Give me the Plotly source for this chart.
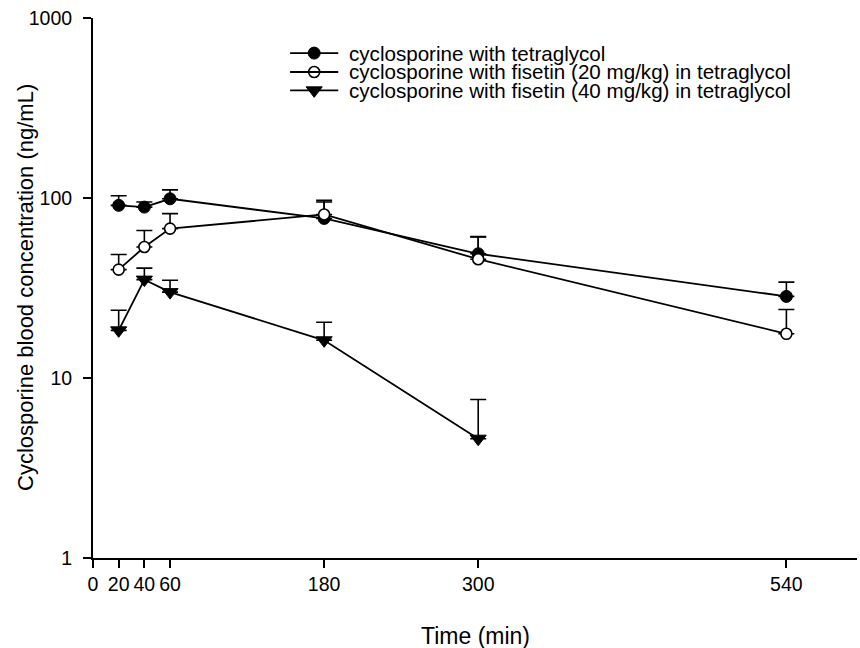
import plotly.graph_objects as go

# Sampling times (min)
time_min = [20, 40, 60, 180, 300, 540]
time_min_40 = [20, 40, 60, 180, 300]

# Mean blood concentrations (ng/mL) and upper SD
tetraglycol = [91, 89, 99, 77, 49, 28.4]
tetraglycol_sd = [12, 6, 12, 18, 12, 5.7]
fisetin20 = [40, 53.4, 67.6, 81, 45.7, 17.6]
fisetin20_sd = [8.5, 12.6, 14.3, 16, 15, 6.4]
fisetin40 = [18.4, 35.2, 30, 16.2, 4.6]
fisetin40_sd = [5.4, 5.6, 4.9, 4.2, 3.0]

series_names = [
    "cyclosporine with tetraglycol",
    "cyclosporine with fisetin (20 mg/kg) in tetraglycol",
    "cyclosporine with fisetin (40 mg/kg) in tetraglycol",
]

x_tick_vals = [0, 20, 40, 60, 180, 300, 540]
y_tick_vals = [1, 10, 100, 1000]

FONT = "Arial, Liberation Sans, sans-serif"
BLACK = "#000000"

marker_styles = [
    dict(symbol="circle", size=12, color=BLACK, line=dict(color=BLACK, width=1)),
    dict(symbol="circle", size=11, color="#ffffff", line=dict(color=BLACK, width=1.6)),
    dict(symbol="triangle-down", size=14, color=BLACK, line=dict(color=BLACK, width=1)),
]

fig = go.Figure()

series = [
    (time_min, tetraglycol, tetraglycol_sd),
    (time_min, fisetin20, fisetin20_sd),
    (time_min_40, fisetin40, fisetin40_sd),
]

for (xs, ys, sd), name, mk in zip(series, series_names, marker_styles):
    fig.add_trace(go.Scatter(
        x=xs, y=ys, name=name, mode="lines+markers",
        line=dict(color=BLACK, width=1.8),
        marker=mk,
        error_y=dict(type="data", symmetric=False, array=sd,
                     arrayminus=[0] * len(sd), color=BLACK,
                     thickness=1.6, width=8),
        showlegend=False,
    ))

# Hand-built legend: short line + marker glyph, then label text
leg_rows_y = [0.935, 0.900, 0.866]
leg_line_x = (0.258, 0.321)
leg_text_x = 0.333
for yk, name, mk in zip(leg_rows_y, series_names, marker_styles):
    fig.add_shape(type="line", xref="paper", yref="paper",
                  x0=leg_line_x[0], x1=leg_line_x[1], y0=yk, y1=yk,
                  line=dict(color=BLACK, width=1.8))
    fig.add_trace(go.Scatter(
        x=[(leg_line_x[0] + leg_line_x[1]) / 2], y=[yk],
        xaxis="x2", yaxis="y2", mode="markers", marker=mk,
        showlegend=False, hoverinfo="skip",
    ))
    fig.add_annotation(text=name, xref="paper", yref="paper",
                       x=leg_text_x, y=yk, xanchor="left", yanchor="middle",
                       showarrow=False, font=dict(family=FONT, size=20.6, color=BLACK))

# Axis titles
fig.add_annotation(text="Time (min)", xref="paper", yref="paper",
                   x=0.5, y=-0.145, xanchor="center", yanchor="middle",
                   showarrow=False, font=dict(family=FONT, size=23, color=BLACK))
fig.add_annotation(text="Cyclosporine blood concentration (ng/mL)",
                   xref="paper", yref="paper", x=-0.089, y=0.5,
                   xanchor="center", yanchor="middle", textangle=-90,
                   showarrow=False, font=dict(family=FONT, size=22, color=BLACK))

fig.update_layout(
    width=860, height=648,
    margin=dict(l=93, r=3, t=18, b=90),
    paper_bgcolor="white", plot_bgcolor="white",
    font=dict(family=FONT, size=19, color=BLACK),
    xaxis=dict(
        range=[0, 595], tickmode="array", tickvals=x_tick_vals,
        ticktext=[str(v) for v in x_tick_vals],
        showline=True, linecolor=BLACK, linewidth=2,
        ticks="outside", ticklen=8, tickwidth=1.6, tickcolor=BLACK,
        showgrid=False, zeroline=False,
        tickfont=dict(family=FONT, size=19.5, color=BLACK),
    ),
    yaxis=dict(
        type="log", range=[0, 3], tickmode="array", tickvals=y_tick_vals,
        ticktext=[str(v) for v in y_tick_vals],
        showline=True, linecolor=BLACK, linewidth=2,
        ticks="outside", ticklen=8, tickwidth=1.6, tickcolor=BLACK,
        showgrid=False, zeroline=False, ticklabelstandoff=7,
        tickfont=dict(family=FONT, size=19.5, color=BLACK),
    ),
    xaxis2=dict(range=[0, 1], overlaying="x", visible=False, fixedrange=True),
    yaxis2=dict(range=[0, 1], overlaying="y", visible=False, fixedrange=True),
)

fig.write_html("out.html")
